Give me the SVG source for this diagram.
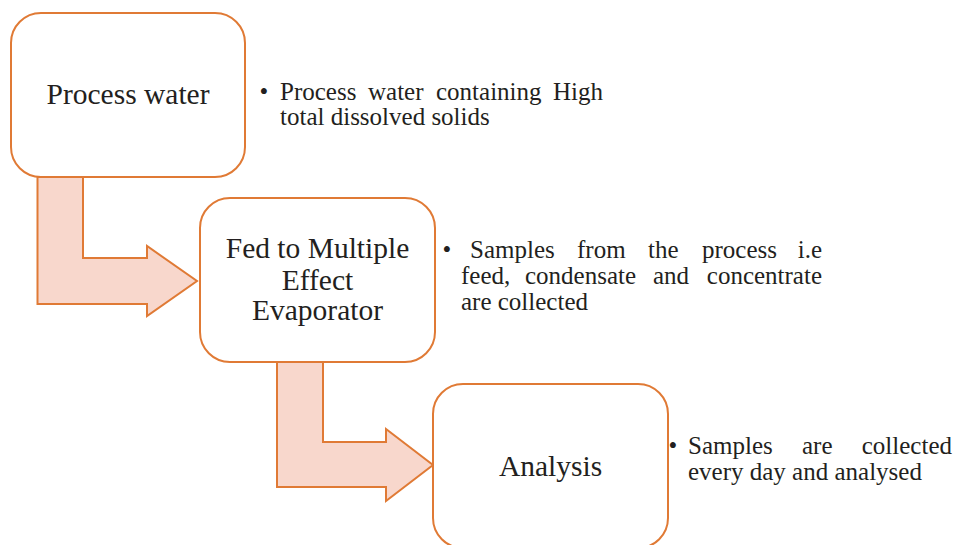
<svg xmlns="http://www.w3.org/2000/svg" width="955" height="545" viewBox="0 0 955 545">
<style>
.node{fill:#ffffff;stroke:#E07A35;stroke-width:2}
.arrow{fill:#F8D7CC;stroke:#E07A35;stroke-width:2;stroke-linejoin:miter}
.main{font-size:29.5px;fill:#231f20;text-anchor:middle}
.note{font-size:25px;fill:#231f20}
.bul{text-anchor:middle}
.end{text-anchor:end}
</style>
<rect width="955" height="545" fill="#ffffff"/>
<g id="connectors">
<polygon class="arrow" points="37.5,177 83,177 83,258 147,258 147,246 197,281 147,316 147,304 37.5,304"/>
<polygon class="arrow" points="277,362 323,362 323,442 386,442 386,429 433,465 386,501 386,487 277,487"/>
</g>
<g font-family="Liberation Serif, Times New Roman, serif">
<g id="node-process-water">
<rect class="node" x="11" y="13" width="234" height="164" rx="30" ry="30"/>
<text class="main" x="128" y="104">Process water</text>
</g>
<g id="node-evaporator">
<rect class="node" x="200" y="198" width="235" height="164" rx="30" ry="30"/>
<text class="main" x="317.5" y="258">Fed to Multiple</text>
<text class="main" x="317.5" y="290">Effect</text>
<text class="main" x="317.5" y="320">Evaporator</text>
</g>
<g id="node-analysis">
<rect class="node" x="433" y="384" width="235" height="164" rx="30" ry="30"/>
<text class="main" x="550.5" y="476">Analysis</text>
</g>
<g id="note-1">
<text class="note bul" x="264" y="100">•</text>
<text class="note" y="100"><tspan x="280">Process</tspan><tspan x="368">water</tspan><tspan x="436">containing</tspan></text>
<text class="note end" x="603" y="100">High</text>
<text class="note" x="280" y="125">total dissolved solids</text>
</g>
<g id="note-2">
<text class="note bul" x="447" y="258">•</text>
<text class="note" y="258"><tspan x="470">Samples</tspan><tspan x="577">from</tspan><tspan x="648">the</tspan><tspan x="702">process</tspan></text>
<text class="note end" x="822" y="258">i.e</text>
<text class="note" y="284"><tspan x="461">feed,</tspan><tspan x="525">condensate</tspan><tspan x="653">and</tspan></text>
<text class="note end" x="822" y="284">concentrate</text>
<text class="note" x="461" y="310">are collected</text>
</g>
<g id="note-3">
<text class="note bul" x="673" y="454">•</text>
<text class="note" y="454"><tspan x="688">Samples</tspan><tspan x="802">are</tspan></text>
<text class="note end" x="952" y="454">collected</text>
<text class="note" x="688" y="480">every day and analysed</text>
</g>
</g>
</svg>
